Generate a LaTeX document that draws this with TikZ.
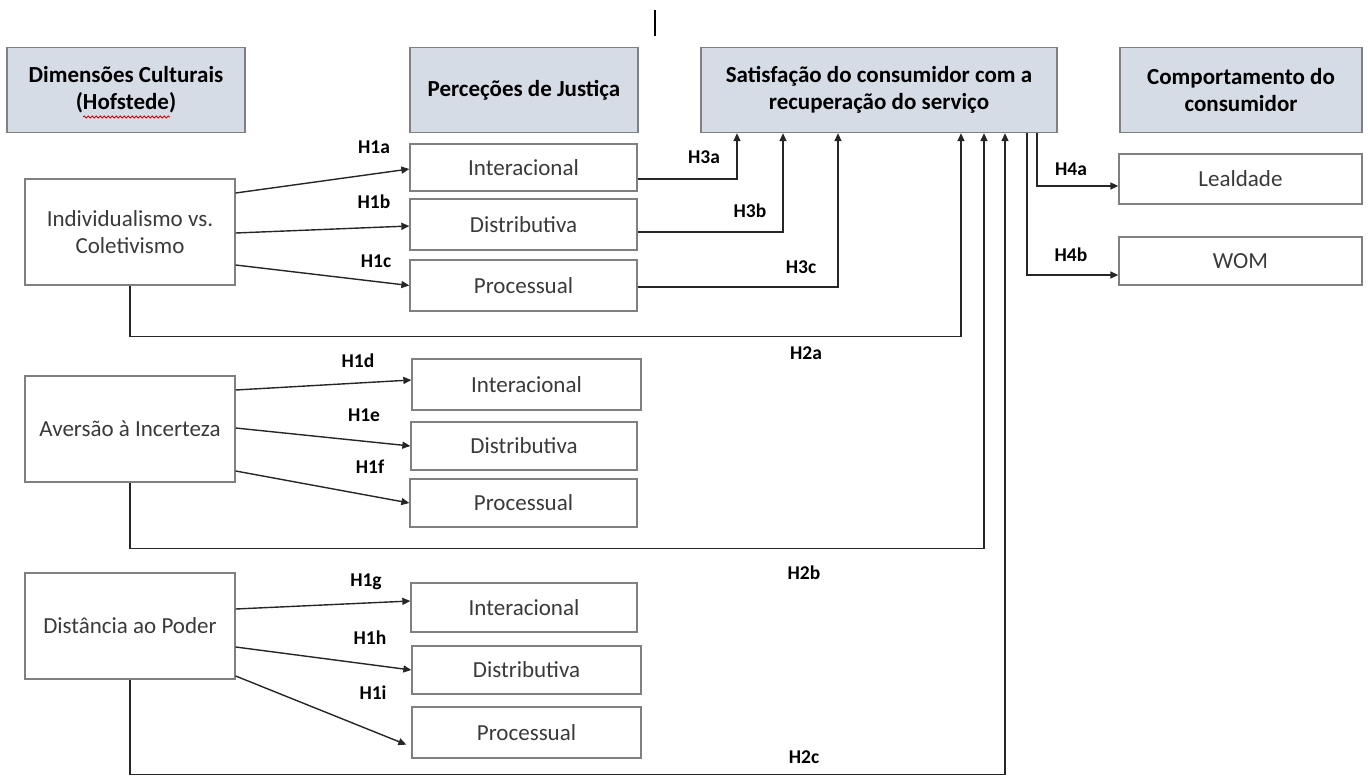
\documentclass[tikz,border=0pt]{standalone}
\usepackage{fontspec}
\setmainfont{Carlito}
\usetikzlibrary{arrows.meta,calc,decorations.pathmorphing}
\definecolor{hdrfill}{HTML}{D6DCE5}
\definecolor{frame}{HTML}{808080}
\definecolor{ink}{HTML}{262626}
\definecolor{boxtext}{HTML}{3A3A3A}
\begin{document}
\begin{tikzpicture}[x=1pt,y=-1pt,
  box/.style={draw=frame,line width=1.3pt,inner sep=0pt,align=center,text=boxtext,
    font=\fontsize{23}{27}\selectfont},
  hdr/.style={box,fill=hdrfill,text=black,font=\bfseries\fontsize{23}{27}\selectfont},
  hyp/.style={font=\bfseries\fontsize{19.5}{22}\selectfont,text=black,inner sep=0pt},
  link/.style={draw=ink,line width=1.4pt},
  arr/.style={link,-{Triangle[length=8pt,width=7pt]}},
]
\useasboundingbox (0,0) rectangle (1368,776);

% column headers
\node[hdr,minimum width=238pt,minimum height=85pt] (hdim) at (126,90) {Dimensões Culturais\\(Hofstede)};
\node[hdr,minimum width=228pt,minimum height=85pt] (hjus) at (524,90) {Perceções de Justiça};
\node[hdr,minimum width=356pt,minimum height=85pt] (sat) at (879,90) {Satisfação do consumidor com a\\recuperação do serviço};
\node[hdr,minimum width=242pt,minimum height=85pt] (hcomp) at (1241,90) {Comportamento do\\consumidor};

% spell-check mark and cursor
\draw[red!85!black,line width=0.8pt,decorate,decoration={snake,amplitude=1pt,segment length=4pt}] (83,117) -- (170,117);
\draw[black,line width=1.6pt] (655,10) -- (655,36);

% cultural dimensions
\node[box,minimum width=210pt,minimum height=106pt] (ind) at (130,232) {Individualismo vs.\\Coletivismo};
\node[box,minimum width=210pt,minimum height=106pt] (av) at (130,429) {Aversão à Incerteza};
\node[box,minimum width=210pt,minimum height=106pt] (dist) at (130,626) {Distância ao Poder};

% justice perceptions
\node[box,minimum width=227pt,minimum height=47pt] (int1) at (523.5,167.5) {Interacional};
\node[box,minimum width=227pt,minimum height=51pt] (dis1) at (523.5,224.5) {Distributiva};
\node[box,minimum width=227pt,minimum height=51pt] (pro1) at (523.5,285.5) {Processual};
\node[box,minimum width=229pt,minimum height=51pt] (int2) at (526.5,384.5) {Interacional};
\node[box,minimum width=226pt,minimum height=48pt] (dis2) at (524,446) {Distributiva};
\node[box,minimum width=227pt,minimum height=48pt] (pro2) at (523.5,503) {Processual};
\node[box,minimum width=226pt,minimum height=49pt] (int3) at (524,607.5) {Interacional};
\node[box,minimum width=229pt,minimum height=48pt] (dis3) at (526.5,670) {Distributiva};
\node[box,minimum width=229pt,minimum height=51pt] (pro3) at (526.5,732.5) {Processual};

% consumer behaviour
\node[box,minimum width=243pt,minimum height=50pt] (leal) at (1240.5,179) {Lealdade};
\node[box,minimum width=243pt,minimum height=48pt] (wom) at (1240.5,261) {WOM};

% H1: culture -> justice
\draw[arr] ([yshift=39pt]ind.east) -- ([yshift=-1.5pt]int1.west);
\draw[arr] ([yshift=-1pt]ind.east) -- ([yshift=-1.5pt]dis1.west);
\draw[arr] ([yshift=-33pt]ind.east) -- (pro1.west);
\draw[arr] ([yshift=39pt]av.east) -- ([yshift=4.5pt]int2.west);
\draw[arr] ([yshift=1pt]av.east) -- (dis2.west);
\draw[arr] ([yshift=-42pt]av.east) -- (pro2.west);
\draw[arr] ([yshift=17pt]dist.east) -- ([yshift=6.5pt]int3.west);
\draw[arr] ([yshift=-21pt]dist.east) -- (dis3.west);
\draw[arr] ([yshift=-50pt]dist.east) -- ([shift={(-5pt,14pt)}]pro3.south west);

% H3: justice -> satisfaction
\draw[arr] ([yshift=-11.5pt]int1.east) -| ([xshift=-142pt]sat.south);
\draw[arr] ([yshift=-7.5pt]dis1.east) -| ([xshift=-96pt]sat.south);
\draw[arr] ([yshift=-1.5pt]pro1.east) -| ([xshift=-41pt]sat.south);

% H2: culture -> satisfaction
\draw[arr] (ind.south) -- ++(0,51) -| ([xshift=82pt]sat.south);
\draw[arr] (av.south) -- ++(0,66) -| ([xshift=105pt]sat.south);
\draw[arr] (dist.south) -- ++(0,95) -| ([xshift=126pt]sat.south);

% H4: satisfaction -> behaviour
\draw[arr] ([xshift=158pt]sat.south) |- ([yshift=-7pt]leal.west);
\draw[arr] ([xshift=148pt]sat.south) |- ([yshift=-14pt]wom.west);

% hypothesis labels
\node[hyp] (l1a) at (374,147) {H1a};
\node[hyp] (l1b) at (374,202) {H1b};
\node[hyp] (l1c) at (376,261) {H1c};
\node[hyp] (l1d) at (358,361) {H1d};
\node[hyp] (l1e) at (364,415) {H1e};
\node[hyp] (l1f) at (370,467) {H1f};
\node[hyp] (l1g) at (366,582) {H1g};
\node[hyp] (l1h) at (370,638) {H1h};
\node[hyp] (l1i) at (373,693) {H1i};
\node[hyp] (l3a) at (704,157) {H3a};
\node[hyp] (l3b) at (750,211) {H3b};
\node[hyp] (l3c) at (801,267) {H3c};
\node[hyp] (l2a) at (806,353) {H2a};
\node[hyp] (l2b) at (804,573) {H2b};
\node[hyp] (l2c) at (804,757) {H2c};
\node[hyp] (l4a) at (1071,169) {H4a};
\node[hyp] (l4b) at (1071,255) {H4b};
\end{tikzpicture}
\end{document}
